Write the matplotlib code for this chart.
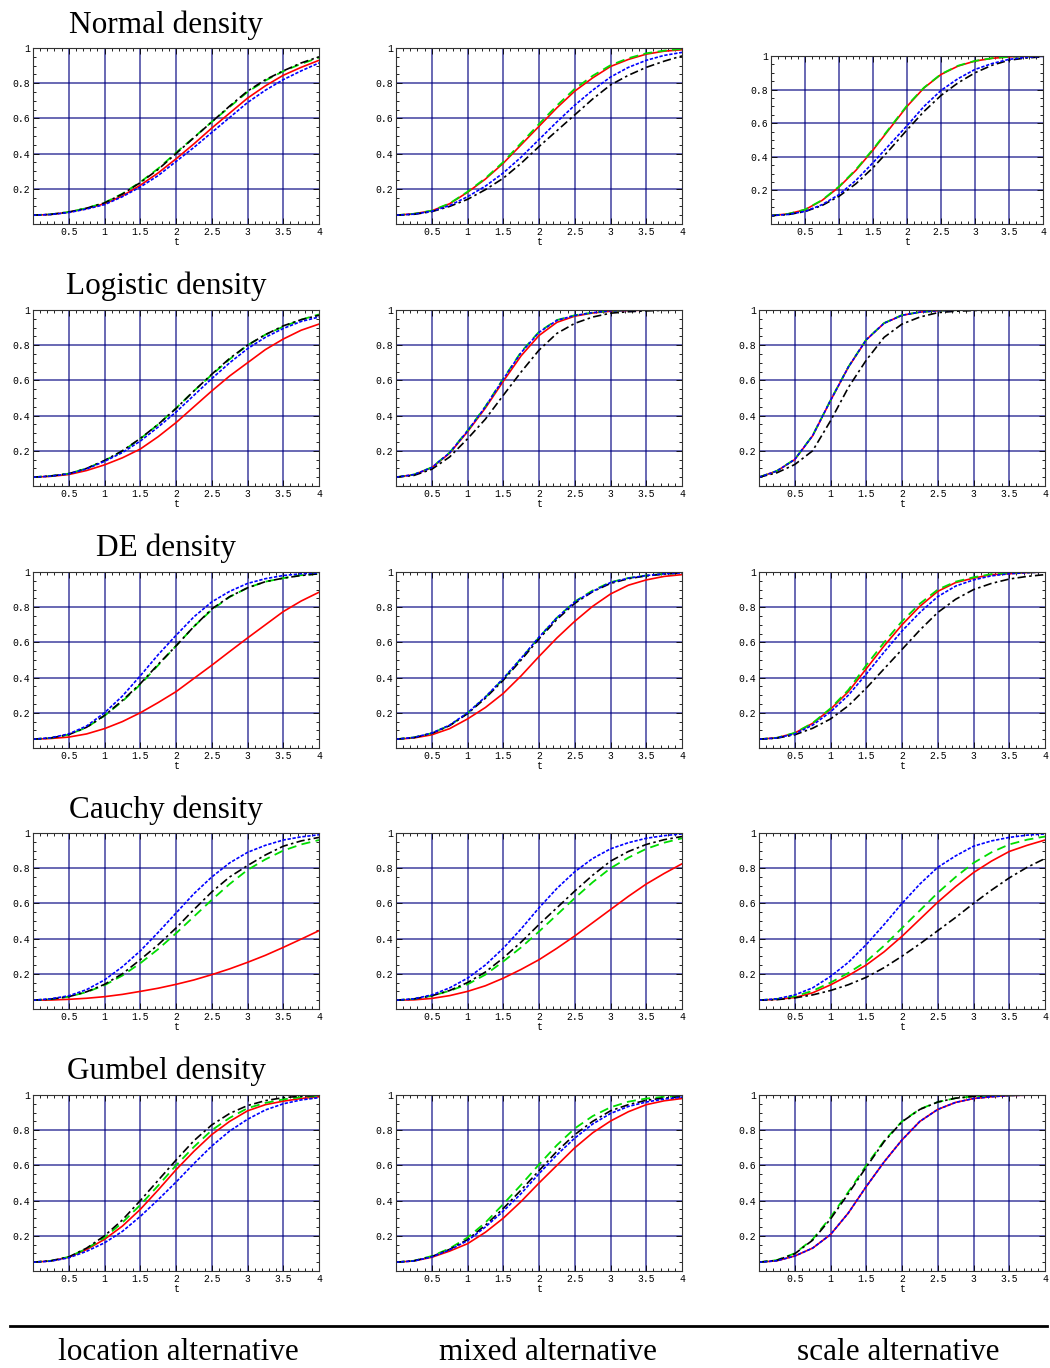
import numpy as np
import matplotlib.pyplot as plt
from matplotlib.ticker import MultipleLocator, FuncFormatter

t = [0, 0.25, 0.5, 0.75, 1, 1.25, 1.5, 1.75, 2, 2.25, 2.5, 2.75, 3, 3.25, 3.5, 3.75, 4]

# Normal density
norm_loc_red = [.05, .054, .067, .088, .115, .160, .220, .290, .370, .455, .545, .630, .715, .785, .845, .890, .930]
norm_loc_green = [.05, .055, .068, .090, .121, .172, .238, .315, .405, .492, .580, .665, .750, .815, .868, .910, .945]
norm_loc_black = [.05, .055, .068, .090, .120, .170, .235, .310, .400, .490, .580, .670, .755, .820, .870, .915, .950]
norm_loc_blue = [.05, .054, .065, .085, .110, .155, .210, .275, .355, .435, .520, .605, .690, .760, .820, .870, .915]

norm_mix_red = [.05, .058, .075, .115, .180, .255, .345, .450, .555, .660, .755, .830, .895, .935, .965, .982, .990]
norm_mix_green = [.05, .058, .076, .117, .183, .260, .352, .460, .568, .673, .768, .842, .902, .942, .970, .985, .995]
norm_mix_black = [.05, .055, .070, .100, .140, .195, .260, .345, .440, .530, .620, .710, .790, .845, .890, .925, .955]
norm_mix_blue = [.05, .056, .072, .105, .155, .215, .290, .380, .480, .580, .675, .760, .835, .890, .930, .958, .975]

norm_sc_red = [.05, .060, .085, .140, .220, .320, .440, .570, .700, .810, .890, .940, .970, .986, .995, .998, 1.0]
norm_sc_green = [.05, .060, .086, .142, .223, .325, .445, .575, .705, .812, .892, .942, .971, .987, .995, .998, 1.0]
norm_sc_black = [.05, .056, .074, .110, .165, .240, .335, .445, .560, .670, .765, .840, .900, .945, .975, .988, .995]
norm_sc_blue = [.05, .057, .075, .115, .175, .260, .365, .475, .585, .700, .795, .865, .920, .955, .980, .992, .998]

# Logistic density
logi_loc_red = [.05, .055, .065, .088, .120, .160, .210, .280, .360, .450, .540, .625, .700, .775, .835, .885, .920]
logi_loc_green = [.05, .057, .070, .100, .144, .198, .268, .350, .442, .540, .632, .720, .800, .860, .905, .945, .975]
logi_loc_black = [.05, .057, .070, .100, .145, .200, .270, .350, .440, .540, .635, .725, .800, .860, .910, .945, .970]
logi_loc_blue = [.05, .056, .069, .097, .140, .190, .255, .335, .420, .515, .610, .700, .780, .845, .895, .935, .960]

logi_mix_red = [.05, .064, .104, .186, .308, .443, .595, .740, .855, .930, .965, .983, .993, .997, .999, 1.0, 1.0]
logi_mix_green = [.05, .065, .106, .190, .315, .452, .610, .762, .876, .943, .970, .985, .995, .998, .999, 1.0, 1.0]
logi_mix_black = [.05, .060, .095, .165, .268, .380, .515, .648, .772, .867, .924, .960, .982, .990, .995, .998, 1.0]
logi_mix_blue = [.05, .065, .105, .189, .313, .450, .607, .758, .873, .941, .969, .985, .995, .998, .999, 1.0, 1.0]

logi_sc_red = [.05, .085, .150, .285, .485, .675, .830, .925, .970, .988, .996, .999, 1.0, 1.0, 1.0, 1.0, 1.0]
logi_sc_green = [.05, .086, .152, .287, .487, .677, .832, .926, .971, .988, .996, .999, 1.0, 1.0, 1.0, 1.0, 1.0]
logi_sc_black = [.05, .075, .122, .200, .370, .560, .715, .845, .920, .960, .985, .993, .997, .999, 1.0, 1.0, 1.0]
logi_sc_blue = [.05, .085, .151, .286, .486, .676, .831, .925, .970, .988, .996, .999, 1.0, 1.0, 1.0, 1.0, 1.0]

# DE density
de_loc_red = [.05, .054, .062, .080, .110, .150, .200, .258, .320, .395, .470, .548, .625, .700, .775, .835, .885]
de_loc_green = [.05, .057, .076, .117, .183, .265, .360, .470, .580, .690, .785, .858, .910, .945, .965, .982, .990]
de_loc_black = [.05, .057, .076, .118, .185, .270, .365, .475, .580, .690, .790, .860, .910, .945, .965, .980, .990]
de_loc_blue = [.05, .058, .080, .125, .200, .295, .410, .530, .640, .745, .830, .890, .935, .962, .980, .990, .995]

de_mix_red = [.05, .057, .075, .110, .165, .230, .310, .410, .520, .625, .720, .805, .875, .925, .955, .975, .985]
de_mix_green = [.05, .060, .084, .128, .198, .288, .392, .508, .628, .740, .832, .895, .942, .966, .980, .990, .995]
de_mix_black = [.05, .059, .083, .127, .195, .283, .385, .500, .620, .730, .822, .888, .935, .962, .978, .988, .995]
de_mix_blue = [.05, .060, .085, .130, .200, .290, .395, .510, .630, .740, .830, .890, .940, .965, .980, .990, .995]

de_sc_red = [.05, .058, .085, .140, .220, .320, .450, .580, .700, .805, .890, .940, .965, .985, .990, .997, 1.0]
de_sc_green = [.05, .058, .086, .142, .225, .330, .470, .600, .720, .820, .900, .945, .970, .988, .993, .998, 1.0]
de_sc_black = [.05, .056, .075, .112, .165, .240, .340, .450, .560, .670, .770, .845, .900, .935, .960, .975, .985]
de_sc_blue = [.05, .057, .080, .130, .205, .300, .420, .545, .665, .770, .860, .920, .955, .978, .990, .996, 1.0]

# Cauchy density
cau_loc_red = [.05, .051, .055, .061, .070, .083, .100, .118, .140, .165, .195, .228, .265, .305, .350, .397, .445]
cau_loc_green = [.05, .056, .070, .096, .135, .190, .260, .340, .430, .525, .620, .710, .790, .850, .900, .935, .960]
cau_loc_black = [.05, .056, .070, .098, .140, .200, .280, .365, .460, .565, .665, .750, .815, .875, .925, .955, .975]
cau_loc_blue = [.05, .058, .075, .110, .165, .240, .330, .435, .545, .655, .750, .830, .890, .930, .960, .978, .990]

cau_mix_red = [.05, .052, .060, .076, .100, .132, .175, .225, .280, .345, .415, .490, .565, .640, .710, .770, .825]
cau_mix_green = [.05, .057, .075, .103, .140, .195, .270, .350, .440, .535, .630, .720, .800, .860, .910, .945, .970]
cau_mix_black = [.05, .057, .075, .105, .150, .210, .290, .380, .480, .575, .670, .760, .840, .895, .935, .962, .980]
cau_mix_blue = [.05, .058, .080, .120, .175, .250, .345, .455, .575, .685, .780, .855, .910, .945, .970, .985, .995]

cau_sc_red = [.05, .055, .065, .092, .137, .190, .250, .325, .413, .510, .607, .695, .775, .840, .895, .930, .960]
cau_sc_green = [.05, .057, .072, .103, .150, .205, .270, .360, .460, .560, .660, .750, .830, .890, .935, .962, .980]
cau_sc_black = [.05, .053, .063, .080, .105, .138, .180, .235, .300, .370, .445, .520, .600, .675, .745, .805, .855]
cau_sc_blue = [.05, .058, .080, .120, .185, .265, .366, .480, .600, .710, .805, .870, .925, .955, .975, .988, .995]

# Gumbel density
gum_loc_red = [.05, .057, .078, .122, .180, .255, .350, .460, .575, .680, .775, .850, .910, .945, .965, .980, .990]
gum_loc_green = [.05, .058, .080, .127, .190, .275, .375, .485, .600, .705, .800, .870, .925, .955, .975, .988, .995]
gum_loc_black = [.05, .058, .080, .130, .200, .290, .400, .515, .630, .740, .830, .895, .940, .968, .985, .993, .998]
gum_loc_blue = [.05, .056, .075, .112, .160, .225, .310, .405, .505, .610, .710, .795, .862, .915, .950, .972, .985]

gum_mix_red = [.05, .057, .078, .113, .155, .220, .300, .395, .500, .600, .700, .785, .852, .905, .945, .967, .980]
gum_mix_green = [.05, .058, .085, .128, .190, .275, .380, .490, .605, .715, .810, .880, .930, .962, .980, .990, .995]
gum_mix_black = [.05, .058, .082, .123, .178, .260, .355, .460, .570, .680, .775, .850, .910, .945, .970, .983, .990]
gum_mix_blue = [.05, .057, .080, .120, .172, .250, .340, .440, .553, .660, .755, .835, .895, .935, .960, .977, .988]

gum_sc_red = [.05, .058, .085, .130, .207, .330, .480, .620, .745, .850, .918, .958, .980, .990, .997, .999, 1.0]
gum_sc_green = [.05, .062, .100, .180, .305, .450, .600, .740, .850, .920, .960, .982, .992, .996, .998, 1.0, 1.0]
gum_sc_black = [.05, .061, .098, .175, .295, .440, .590, .735, .848, .918, .960, .982, .992, .996, .998, 1.0, 1.0]
gum_sc_blue = [.05, .058, .085, .130, .207, .330, .480, .620, .745, .850, .918, .958, .980, .990, .997, .999, 1.0]

row_titles = ['Normal density', 'Logistic density', 'DE density', 'Cauchy density', 'Gumbel density']
col_labels = ['location alternative', 'mixed alternative', 'scale alternative']

panels = [
    [(norm_loc_red, norm_loc_green, norm_loc_black, norm_loc_blue),
     (norm_mix_red, norm_mix_green, norm_mix_black, norm_mix_blue),
     (norm_sc_red, norm_sc_green, norm_sc_black, norm_sc_blue)],
    [(logi_loc_red, logi_loc_green, logi_loc_black, logi_loc_blue),
     (logi_mix_red, logi_mix_green, logi_mix_black, logi_mix_blue),
     (logi_sc_red, logi_sc_green, logi_sc_black, logi_sc_blue)],
    [(de_loc_red, de_loc_green, de_loc_black, de_loc_blue),
     (de_mix_red, de_mix_green, de_mix_black, de_mix_blue),
     (de_sc_red, de_sc_green, de_sc_black, de_sc_blue)],
    [(cau_loc_red, cau_loc_green, cau_loc_black, cau_loc_blue),
     (cau_mix_red, cau_mix_green, cau_mix_black, cau_mix_blue),
     (cau_sc_red, cau_sc_green, cau_sc_black, cau_sc_blue)],
    [(gum_loc_red, gum_loc_green, gum_loc_black, gum_loc_blue),
     (gum_mix_red, gum_mix_green, gum_mix_black, gum_mix_blue),
     (gum_sc_red, gum_sc_green, gum_sc_black, gum_sc_blue)],
]

W, H = 1050, 1368
fig = plt.figure(figsize=(W / 100, H / 100), dpi=100)

col_left = [33, 396, 759]
row_top = [48, 310, 572, 833, 1095]
ax_w, ax_h = 286, 176

styles = [
    dict(color='#ff0000', lw=1.2, ls='-'),
    dict(color='#00dd00', lw=1.3, ls=(0, (5, 3))),
    dict(color='black', lw=1.2, ls=(0, (5, 2, 1.5, 2))),
    dict(color='#0000ff', lw=1.2, ls=(0, (2, 1))),
]

fmt = FuncFormatter(lambda v, p: '%g' % v)
mono = 'Liberation Mono'
serif = 'Liberation Serif'

for r in range(5):
    for c in range(3):
        left, top, w, h = col_left[c], row_top[r], ax_w, ax_h
        if r == 0 and c == 2:
            left, top, w, h = 771, 56, 272, 168
        ax = fig.add_axes([left / W, 1 - (top + h) / H, w / W, h / H])
        for ys, st in zip(panels[r][c], styles):
            ax.plot(t, ys, **st)
        ax.set_xlim(0, 4)
        ax.set_ylim(0, 1)
        ax.set_xticks([0.5, 1, 1.5, 2, 2.5, 3, 3.5, 4])
        ax.set_yticks([0.2, 0.4, 0.6, 0.8, 1])
        ax.xaxis.set_minor_locator(MultipleLocator(0.1))
        ax.yaxis.set_minor_locator(MultipleLocator(0.05))
        ax.xaxis.set_major_formatter(fmt)
        ax.yaxis.set_major_formatter(fmt)
        for g in [0.5, 1, 1.5, 2, 2.5, 3, 3.5]:
            ax.axvline(g, color='#000080', lw=1.1, alpha=0.75, zorder=0)
        for g in [0.2, 0.4, 0.6, 0.8]:
            ax.axhline(g, color='#000080', lw=1.1, alpha=0.75, zorder=0)
        ax.tick_params(which='both', direction='in', top=True, right=True,
                       labelsize=7, pad=2, width=0.6)
        ax.tick_params(which='major', length=4)
        ax.tick_params(which='minor', length=2)
        for lab in ax.get_xticklabels() + ax.get_yticklabels():
            lab.set_family(mono)
        for sp in ax.spines.values():
            sp.set_linewidth(0.8)
            sp.set_color('#333333')
        ax.set_xlabel('t', family=mono, fontsize=7, labelpad=0)

title_y = [25, 286, 548, 810, 1071]
for r in range(5):
    fig.text(166 / W, 1 - title_y[r] / H, row_titles[r], family=serif,
             fontsize=22.5, ha='center', va='center')

fig.add_artist(plt.Line2D([10 / W, 1047 / W], [1 - 1326 / H, 1 - 1326 / H],
                          color='black', lw=2))
label_x = [178, 548, 898]
for c in range(3):
    fig.text(label_x[c] / W, 1 - 1353 / H, col_labels[c], family=serif,
             fontsize=22.5, ha='center', va='center')

fig.savefig('out.png', dpi=100)
